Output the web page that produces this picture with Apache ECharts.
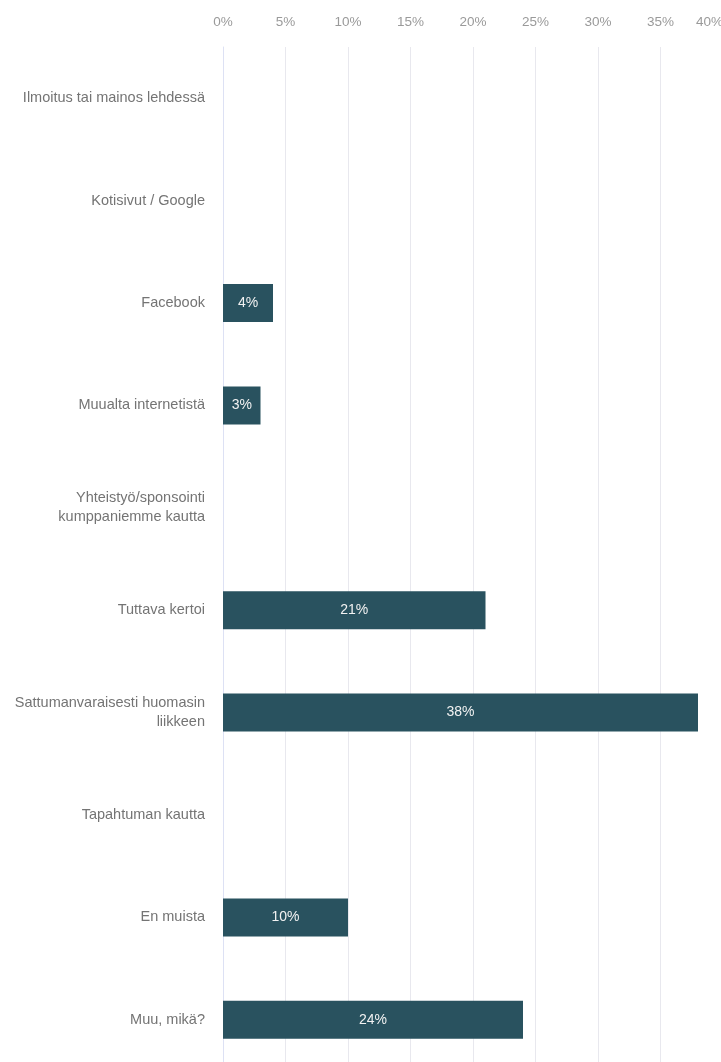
<!DOCTYPE html>
<html>
<head>
<meta charset="utf-8">
<script src="https://cdn.jsdelivr.net/npm/echarts@6/dist/echarts.min.js"></script>
<style>
  html, body { margin: 0; padding: 0; background: #ffffff; overflow: hidden; }
  #chart { width: 721px; height: 1062px; }
</style>
</head>
<body>
<div id="chart"></div>
<script>
// Response categories, top to bottom
const categories = [
  'Ilmoitus tai mainos lehdessä',
  'Kotisivut / Google',
  'Facebook',
  'Muualta internetistä',
  'Yhteistyö/sponsointi\nkumppaniemme kautta',
  'Tuttava kertoi',
  'Sattumanvaraisesti huomasin\nliikkeen',
  'Tapahtuman kautta',
  'En muista',
  'Muu, mikä?'
];

// Share of respondents (%) per category
const shares = [0, 0, 4, 3, 0, 21, 38, 0, 10, 24];

// Value axis range and step (%)
const axisMin = 0;
const axisMax = 40;
const axisStep = 5;

const chart = echarts.init(document.getElementById('chart'), null, { renderer: 'canvas' });

const fontFamily = '"Liberation Sans", Arial, Helvetica, sans-serif';

chart.setOption({
  animation: false,
  backgroundColor: '#ffffff',
  // plot area runs slightly past the right and bottom edges of the page
  grid: {
    left: 223, top: 47, width: 500, height: 1024,
    containLabel: false,
    outerBoundsMode: 'none'
  },
  xAxis: {
    type: 'value',
    position: 'top',
    min: axisMin,
    max: axisMax,
    interval: axisStep,
    axisLine: { show: false },
    axisTick: { show: false },
    axisLabel: {
      formatter: '{value}%',
      color: '#9a9a9a',
      fontSize: 13.5,
      fontFamily: fontFamily,
      margin: 18,
      hideOverlap: false,
      alignMaxLabel: 'right'
    },
    splitLine: { show: true, lineStyle: { color: '#e8e8ee', width: 1 } }
  },
  yAxis: {
    type: 'category',
    data: categories,
    inverse: true,
    axisLine: { show: true, lineStyle: { color: '#dde1f4', width: 1 } },
    axisTick: { show: false },
    axisLabel: {
      color: '#747474',
      fontSize: 14.5,
      fontFamily: fontFamily,
      margin: 18,
      lineHeight: 19,
      align: 'right'
    },
    splitLine: { show: false }
  },
  series: [{
    type: 'bar',
    data: shares.map(v => (v > 0 ? v : null)),
    barWidth: 38,
    itemStyle: { color: '#29525f' },
    label: {
      show: true,
      position: 'inside',
      formatter: p => p.value + '%',
      color: '#f2f2f2',
      fontSize: 14,
      fontFamily: fontFamily
    }
  }]
});
</script>
</body>
</html>
